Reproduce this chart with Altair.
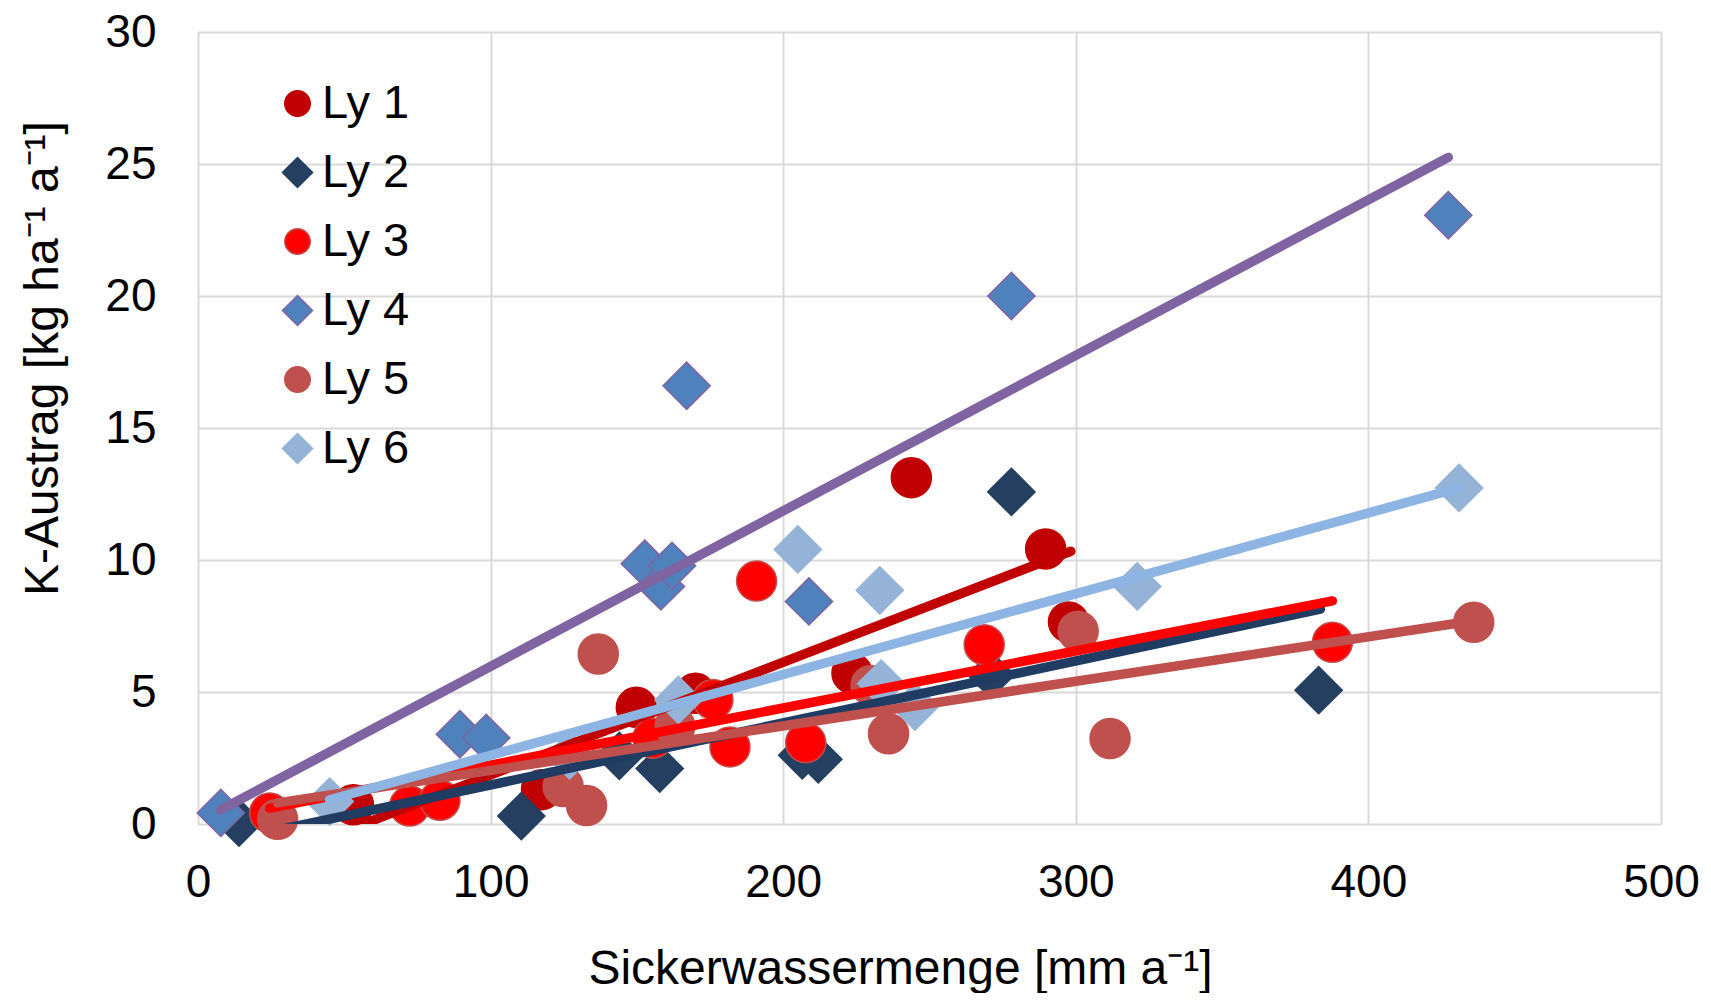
import altair as alt
import pandas as pd

series = ["Ly 1", "Ly 2", "Ly 3", "Ly 4", "Ly 5", "Ly 6"]

ly1_x = [53.1, 117.4, 149.8, 170.0, 223.5, 243.8, 289.7, 297.5]
ly1_y = [0.73, 1.30, 4.42, 4.95, 5.71, 13.12, 10.42, 7.65]

ly2_x = [14.0, 110.5, 144.0, 157.8, 206.5, 212.0, 271.0, 278.0, 383.0]
ly2_y = [0.05, 0.30, 2.58, 2.10, 2.60, 2.45, 5.65, 12.58, 5.07]

ly3_x = [24.5, 72.3, 82.7, 155.5, 176.0, 181.8, 190.9, 207.7, 268.7, 387.7]
ly3_y = [0.42, 0.68, 0.90, 3.25, 4.72, 2.92, 9.20, 3.08, 6.79, 6.88]

ly4_x = [7.8, 89.5, 98.5, 152.7, 158.2, 162.0, 167.0, 208.8, 278.0, 427.3]
ly4_y = [0.42, 3.40, 3.26, 9.86, 9.00, 9.78, 16.60, 8.43, 20.00, 23.06]

ly5_x = [27.2, 124.8, 132.8, 136.8, 163.0, 230.0, 236.0, 300.8, 311.7, 436.0]
ly5_y = [0.18, 1.42, 0.70, 6.44, 3.70, 5.25, 3.42, 7.30, 3.24, 7.64]

ly6_x = [45.0, 127.0, 164.2, 205.0, 233.0, 233.5, 245.0, 321.0, 431.0]
ly6_y = [0.85, 2.60, 4.70, 10.40, 8.85, 5.32, 4.45, 9.00, 12.73]

# trend line end points
trend_x0 = [50.0, 14.0, 24.5, 7.8, 27.2, 45.0]
trend_y0 = [-0.28, -0.54, 0.60, 0.54, 0.80, 0.92]
trend_x1 = [298.3, 383.6, 387.7, 427.3, 436.0, 431.0]
trend_y1 = [10.33, 8.14, 8.45, 25.25, 7.70, 12.73]

x_ticks = [0, 100, 200, 300, 400, 500]
y_ticks = [0, 5, 10, 15, 20, 25, 30]

fill_colors = ["#C00000", "#243F60", "#FF0000", "#4F81BD", "#C0504D", "#95B3D7"]
edge_colors = ["#C00000", "#243F60", "#C0504D", "#8064A2", "#C0504D", "#95B3D7"]
line_colors = ["#C00000", "#213C62", "#FF0000", "#8064A2", "#C0504D", "#8DB4E2"]
BIG_DIAMOND = "M-1.18,0L0,-1.18L1.18,0L0,1.18Z"
shapes = ["circle", BIG_DIAMOND, "circle", BIG_DIAMOND, "circle", BIG_DIAMOND]

xs = [ly1_x, ly2_x, ly3_x, ly4_x, ly5_x, ly6_x]
ys = [ly1_y, ly2_y, ly3_y, ly4_y, ly5_y, ly6_y]
rows = []
for s, xv, yv in zip(series, xs, ys):
    for a, b in zip(xv, yv):
        rows.append({"series": s, "x": a, "y": b})
pts = pd.DataFrame(rows)

lrows = []
for s, a0, b0, a1, b1 in zip(series, trend_x0, trend_y0, trend_x1, trend_y1):
    lrows.append({"series": s, "x": a0, "y": b0})
    lrows.append({"series": s, "x": a1, "y": b1})
lines_df = pd.DataFrame(lrows)

FONT = "Liberation Sans"

xenc = alt.X(
    "x:Q",
    scale=alt.Scale(domain=[0, 500], nice=False, zero=False),
    axis=alt.Axis(
        values=x_ticks,
        title="Sickerwassermenge [mm a⁻¹]",
        titleX=702,
        titleY=159,
        titleBaseline="alphabetic",
        titleAlign="center",
        labelPadding=36,
        labelFlush=False,
    ),
)
yenc = alt.Y(
    "y:Q",
    scale=alt.Scale(domain=[0, 30], nice=False),
    axis=alt.Axis(
        values=y_ticks,
        title="K-Austrag [kg ha⁻¹ a⁻¹]",
        titleX=-141,
        titleY=326,
        titleAngle=270,
        titleBaseline="alphabetic",
        titleAlign="center",
        labelPadding=42,
    ),
)

leg = alt.Legend(
    orient="none",
    legendX=76,
    legendY=48,
    title=None,
    labelFontSize=47,
    labelFont=FONT,
    labelColor="#000000",
    symbolSize=650,
    symbolStrokeWidth=1.5,
    rowPadding=21,
    labelOffset=1,
    padding=0,
)

points = alt.Chart(pts).mark_point(filled=True, opacity=1, size=1600, strokeWidth=1.5, strokeOpacity=1).encode(
    x=xenc,
    y=yenc,
    fill=alt.Fill("series:N", scale=alt.Scale(domain=series, range=fill_colors), legend=leg),
    stroke=alt.Stroke("series:N", scale=alt.Scale(domain=series, range=edge_colors), legend=leg),
    shape=alt.Shape("series:N", scale=alt.Scale(domain=series, range=shapes), legend=leg),
)

lines = alt.Chart(lines_df).mark_line(strokeWidth=9.5, strokeCap="round", clip=True).encode(
    x="x:Q",
    y="y:Q",
    color=alt.Color("series:N", scale=alt.Scale(domain=series, range=line_colors), legend=None),
    detail="series:N",
)

chart = (
    alt.layer(points, lines)
    .properties(
        width=1463,
        height=792,
        autosize=alt.AutoSizeParams(type="none"),
        padding={"left": 190, "top": 24, "right": 40, "bottom": 169},
        background="#FFFFFF",
    )
    .configure_view(stroke=None)
    .configure_axis(
        grid=True,
        gridColor="#D9D9D9",
        gridWidth=2,
        domain=False,
        ticks=False,
        labelFont=FONT,
        labelFontSize=46,
        labelColor="#000000",
        titleFont=FONT,
        titleFontSize=48,
        titleFontWeight="normal",
        titleColor="#000000",
    )
)

chart.save("out.html", embed_options={"renderer": "svg", "actions": False})
